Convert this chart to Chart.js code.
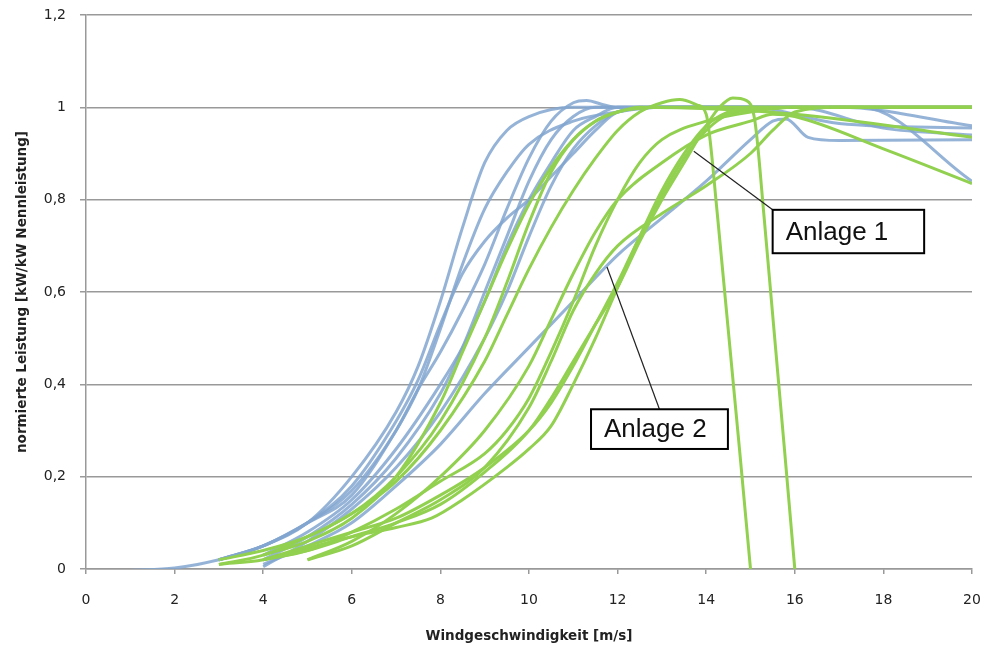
<!DOCTYPE html>
<html>
<head>
<meta charset="utf-8">
<script src="https://cdn.jsdelivr.net/npm/chart.js@4/dist/chart.umd.min.js"></script>
<style>
  body { margin: 0; background: #fff; }
  #wrap { width: 986px; height: 648px; }
</style>
</head>
<body>
<div id="wrap"><canvas id="leistung" width="986" height="648"></canvas></div>
<script>
// Achsen
const xTicks = [0, 2, 4, 6, 8, 10, 12, 14, 16, 18, 20];
const yTicks = [0, 0.2, 0.4, 0.6, 0.8, 1, 1.2];

// Leistungskurven blau: [Windgeschwindigkeit, normierte Leistung]
const blau1 = [[1,-0.003],[2,0.002],[3,0.02],[4,0.05],[5,0.1],[6,0.2],[7,0.34],[7.5,0.44],[8,0.58],[8.5,0.74],[9,0.88],[9.5,0.95],[10,0.98],[11,1.0],[20,1.0]];
const blau2 = [[3,0.02],[4,0.05],[5,0.1],[6,0.18],[7,0.32],[7.5,0.41],[8,0.53],[8.5,0.64],[9,0.71],[9.5,0.76],[10,0.8],[10.5,0.85],[11,0.9],[11.5,0.95],[12,0.99],[13,1.0],[15,1.0],[17,0.965],[20,0.955]];
const blau3 = [[3,0.02],[4,0.05],[5,0.1],[6,0.17],[7,0.3],[7.5,0.39],[8,0.47],[8.5,0.56],[9,0.66],[9.5,0.78],[10,0.89],[10.5,0.97],[11,1.01],[11.3,1.015],[11.7,1.005],[12,1.0],[20,1.0]];
const blau4 = [[4,0.03],[5,0.08],[6,0.15],[7,0.26],[8,0.4],[8.5,0.48],[9,0.58],[9.5,0.7],[10,0.8],[10.5,0.88],[11,0.95],[11.5,0.98],[12,1.0],[17.5,1.0],[20,0.84]];
const blau5 = [[4,0.005],[5,0.06],[6,0.13],[7,0.22],[8,0.34],[9,0.5],[9.5,0.6],[10,0.72],[10.5,0.83],[11,0.91],[11.5,0.96],[12,0.99],[12.5,1.0],[16,1.0],[18,0.955],[20,0.94]];
const blau6 = [[4,0.01],[5,0.05],[6,0.1],[7,0.18],[8,0.27],[9,0.38],[10,0.48],[11,0.58],[12,0.68],[13,0.76],[14,0.84],[15,0.93],[15.5,0.97],[15.8,0.975],[16.3,0.935],[17,0.928],[20,0.93]];
const blau7 = [[3,0.02],[4,0.05],[5,0.1],[6,0.16],[7,0.3],[7.5,0.39],[8,0.52],[8.5,0.66],[9,0.78],[9.5,0.86],[10,0.92],[11,0.97],[12,0.99],[13,1.0],[17,1.0],[20,0.96]];
const blau8 = [[4,0.02],[5,0.07],[6,0.14],[7,0.24],[8,0.38],[8.5,0.48],[9,0.6],[9.5,0.72],[10,0.84],[10.5,0.93],[11,0.98],[11.5,1.0],[20,1.0]];

// Leistungskurven grün
const gruen1 = [[3,0.02],[4,0.04],[5,0.07],[6,0.12],[7,0.19],[8,0.3],[9,0.45],[9.5,0.55],[10,0.65],[10.5,0.74],[11,0.82],[11.5,0.89],[12,0.95],[12.5,0.99],[13,1.01],[13.4,1.017],[13.8,1.005],[14,0.985],[14.25,0.77],[15,0]];
const gruen2 = [[4,0.02],[5,0.04],[6,0.07],[7,0.1],[8,0.14],[9,0.21],[10,0.3],[10.5,0.37],[11,0.45],[11.5,0.53],[12,0.61],[12.5,0.71],[13,0.8],[13.5,0.88],[14,0.96],[14.3,1.0],[14.6,1.02],[14.9,1.015],[15.1,0.97],[15.3,0.77],[16,0]];
const gruen3 = [[3,0.01],[4,0.03],[5,0.07],[6,0.12],[7,0.2],[8,0.32],[9,0.5],[9.5,0.62],[10,0.75],[10.5,0.86],[11,0.93],[11.5,0.97],[12,0.99],[13,1.0],[20,1.0]];
const gruen4 = [[4,0.03],[5,0.06],[6,0.11],[7,0.2],[8,0.36],[8.5,0.47],[9,0.58],[9.5,0.69],[10,0.79],[10.5,0.87],[11,0.93],[11.5,0.97],[12,0.99],[12.5,1.0],[16,0.985],[20,0.935]];
const gruen5 = [[5,0.02],[6,0.06],[7,0.12],[8,0.2],[9,0.3],[10,0.44],[10.5,0.54],[11,0.64],[11.5,0.73],[12,0.8],[13,0.88],[14,0.94],[15,0.97],[15.5,0.985],[16,0.98],[18,0.91],[20,0.835]];
const gruen6 = [[5,0.02],[6,0.05],[7,0.1],[8,0.15],[9,0.22],[10,0.35],[10.5,0.45],[11,0.56],[11.5,0.64],[12,0.7],[13,0.77],[14,0.83],[15,0.9],[15.5,0.95],[16,0.99],[17,1.0],[20,1.0]];
const gruen7 = [[4,0.02],[5,0.04],[6,0.08],[7,0.13],[8,0.19],[9,0.25],[9.5,0.3],[10,0.37],[10.5,0.47],[11,0.58],[11.5,0.7],[12,0.8],[12.5,0.88],[13,0.93],[14,0.97],[15,0.99],[16,1.0],[20,1.0]];
const gruen8 = [[3,0.01],[4,0.02],[5,0.045],[6,0.07],[7,0.09],[7.8,0.11],[8.5,0.15],[9.5,0.22],[10,0.26],[10.5,0.31],[11,0.4],[11.5,0.5],[12,0.61],[12.5,0.72],[13,0.82],[13.5,0.9],[14,0.96],[14.5,0.99],[15,1.0],[20,1.0]];
const gruen9 = [[4,0.02],[5,0.05],[6,0.08],[7,0.11],[8,0.16],[9,0.22],[10,0.3],[10.5,0.36],[11,0.44],[11.5,0.53],[12,0.62],[12.5,0.72],[13,0.81],[13.5,0.89],[14,0.95],[14.5,0.985],[15,0.995],[16,1.0],[20,1.0]];

const blaueKurven = [blau1, blau2, blau3, blau4, blau5, blau6, blau7, blau8];
const grueneKurven = [gruen1, gruen2, gruen3, gruen4, gruen5, gruen6, gruen7, gruen8, gruen9];

// Beschriftungen (Position in Achsenwerten)
const hinweise = [
  { text: 'Anlage 1', ziel: [13.72, 0.905], box: [15.5, 0.778, 18.92, 0.684], anker: 'links' },
  { text: 'Anlage 2', ziel: [11.76, 0.654], box: [11.4, 0.346, 14.49, 0.26], anker: 'mitte' }
];

const BLAU = 'rgba(130,166,208,0.85)';
const GRUEN = '#92D050';
const FONT = 'DejaVu Sans';

function kurve(punkte, farbe) {
  return {
    data: punkte.map(p => ({ x: p[0], y: p[1] })),
    showLine: true,
    borderColor: farbe,
    borderWidth: 3,
    pointRadius: 0,
    cubicInterpolationMode: 'monotone',
    fill: false
  };
}

const datasets = [];
grueneKurven.forEach(k => datasets.push(kurve(k, GRUEN)));
blaueKurven.forEach(k => datasets.push(kurve(k, BLAU)));

// Hinweisboxen mit Zeigerlinien
const hinweisPlugin = {
  id: 'hinweise',
  afterDatasetsDraw(chart) {
    const ctx = chart.ctx;
    const xs = chart.scales.x, ys = chart.scales.y;
    ctx.save();
    hinweise.forEach(h => {
      const x1 = xs.getPixelForValue(h.box[0]);
      const y1 = ys.getPixelForValue(h.box[1]);
      const x2 = xs.getPixelForValue(h.box[2]);
      const y2 = ys.getPixelForValue(h.box[3]);
      const zx = xs.getPixelForValue(h.ziel[0]);
      const zy = ys.getPixelForValue(h.ziel[1]);
      const ax = h.anker === 'mitte' ? (x1 + x2) / 2 : x1;
      ctx.strokeStyle = '#222';
      ctx.lineWidth = 1.2;
      ctx.beginPath();
      ctx.moveTo(zx, zy);
      ctx.lineTo(ax, y1);
      ctx.stroke();
      ctx.fillStyle = '#fff';
      ctx.fillRect(x1, y1, x2 - x1, y2 - y1);
      ctx.strokeStyle = '#000';
      ctx.lineWidth = 2;
      ctx.strokeRect(x1, y1, x2 - x1, y2 - y1);
      ctx.fillStyle = '#111';
      ctx.font = '26px "Liberation Sans", Arial, sans-serif';
      ctx.textBaseline = 'middle';
      ctx.textAlign = 'left';
      ctx.fillText(h.text, x1 + 13, (y1 + y2) / 2 + 1);
    });
    ctx.restore();
  }
};

// Randabstände der Achsen selbst festlegen
function xFit(s) {
  s.height = 79;
  s.paddingLeft = 0;
  s.paddingRight = 0;
}
function yFit(s) {
  s.width = 86;
  s.paddingTop = 0;
  s.paddingBottom = 0;
}

new Chart(document.getElementById('leistung'), {
  type: 'scatter',
  data: { datasets: datasets },
  options: {
    responsive: false,
    animation: false,
    layout: { padding: { left: 0, right: 14, top: 15, bottom: 0 } },
    plugins: { legend: { display: false }, tooltip: { enabled: false } },
    scales: {
      x: {
        type: 'linear',
        min: xTicks[0],
        max: xTicks[xTicks.length - 1],
        afterFit: xFit,
        afterBuildTicks: s => { s.ticks = xTicks.map(v => ({ value: v })); },
        ticks: { color: '#222', padding: 18, maxRotation: 0, font: { family: FONT, size: 14 } },
        grid: { drawOnChartArea: false, drawTicks: true, tickLength: 5, color: '#999', lineWidth: 1.5 },
        border: { color: '#999', width: 1.5 },
        title: {
          display: true,
          text: 'Windgeschwindigkeit [m/s]',
          color: '#222',
          font: { family: FONT, size: 13.5, weight: 'bold' },
          padding: { top: 0, bottom: 3 }
        }
      },
      y: {
        min: yTicks[0],
        max: yTicks[yTicks.length - 1],
        afterFit: yFit,
        afterBuildTicks: s => { s.ticks = yTicks.map(v => ({ value: v })); },
        ticks: {
          color: '#222',
          padding: 14,
          font: { family: FONT, size: 14 },
          callback: v => String(Math.round(v * 10) / 10).replace('.', ',')
        },
        grid: { color: '#999', lineWidth: 1.5, tickLength: 6 },
        border: { color: '#999', width: 1.5 },
        title: {
          display: true,
          text: 'normierte Leistung [kW/kW Nennleistung]',
          color: '#222',
          font: { family: FONT, size: 13.5, weight: 'bold' },
          padding: { top: 14, bottom: 0 }
        }
      }
    }
  },
  plugins: [hinweisPlugin]
});
</script>
</body>
</html>
